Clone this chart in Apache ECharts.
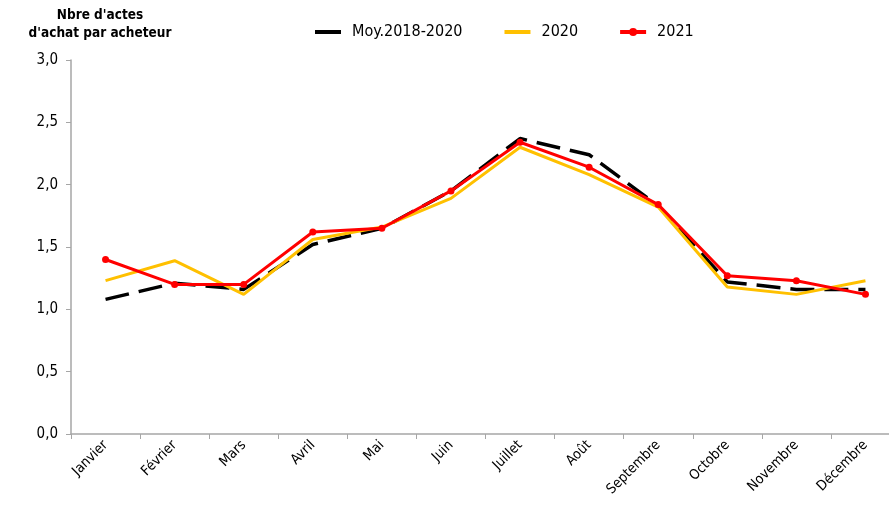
<!DOCTYPE html>
<html>
<head>
<meta charset="utf-8">
<script src="https://cdn.jsdelivr.net/npm/echarts@6/dist/echarts.min.js"></script>
<style>
html,body{margin:0;padding:0;background:#fff;overflow:hidden;width:889px;height:505px;}
#chart{width:900px;height:505px;}
</style>
</head>
<body>
<div id="chart"></div>
<script>
const categories = ['Janvier','Février','Mars','Avril','Mai','Juin','Juillet','Août','Septembre','Octobre','Novembre','Décembre'];
const moy = [1.08,1.21,1.16,1.52,1.65,1.95,2.37,2.24,1.83,1.22,1.16,1.16];
const y2020 = [1.23,1.39,1.12,1.56,1.66,1.89,2.30,2.08,1.82,1.18,1.12,1.23];
const y2021 = [1.40,1.20,1.20,1.62,1.65,1.95,2.34,2.14,1.84,1.27,1.23,1.12];
const yTicks = [0,0.5,1,1.5,2,2.5,3];

const FONT = '"Liberation Sans Narrow","DejaVu Sans Condensed","Liberation Sans",sans-serif';
const chart = echarts.init(document.getElementById('chart'), null, {renderer:'canvas'});
chart.setOption({
  animation:false,
  backgroundColor:'#fff',
  textStyle:{fontFamily:FONT},
  title:{
    text:"Nbre d'actes\nd'achat par acheteur",
    left:95, top:1, textAlign:'center',
    textStyle:{fontFamily:FONT,fontSize:13.5,fontWeight:'bold',color:'#000',lineHeight:18}
  },
  legend:{
    left:313, top:24, padding:0, itemWidth:26, itemHeight:10, itemGap:40,
    textStyle:{fontFamily:FONT,fontSize:16,color:'#000',padding:[0,0,0,6]},
    data:[
      {name:'Moy.2018-2020', itemStyle:{opacity:0}, lineStyle:{type:'solid',width:4}},
      {name:'2020', itemStyle:{opacity:0}, lineStyle:{width:4}},
      {name:'2021', lineStyle:{width:4}}
    ]
  },
  grid:{left:71, top:60, bottom:71, right:0, containLabel:false},
  xAxis:{
    type:'category', data:categories, boundaryGap:true,
    axisLine:{lineStyle:{color:'#a6a6a6',width:1.5}},
    axisTick:{show:true,alignWithLabel:false,length:5,lineStyle:{color:'#a6a6a6'}},
    axisLabel:{rotate:45,interval:0,fontFamily:FONT,fontSize:14,color:'#000',margin:9}
  },
  yAxis:{
    type:'value', min:0, max:3, interval:0.5,
    axisLine:{show:true,lineStyle:{color:'#a6a6a6',width:1.5}},
    axisTick:{show:true,length:5,lineStyle:{color:'#a6a6a6'}},
    splitLine:{show:false},
    axisLabel:{fontFamily:FONT,fontSize:15,color:'#000',margin:13,
      formatter:v=>v.toFixed(1).replace('.',',')}
  },
  series:[
    {name:'Moy.2018-2020',type:'line',data:moy,symbol:'none',
     lineStyle:{color:'#000',width:3.5,type:[24,10]},itemStyle:{color:'#000'},z:1},
    {name:'2020',type:'line',data:y2020,symbol:'none',
     lineStyle:{color:'#ffc000',width:3},itemStyle:{color:'#ffc000'},z:2},
    {name:'2021',type:'line',data:y2021,symbol:'circle',symbolSize:7,
     lineStyle:{color:'#ff0000',width:3},itemStyle:{color:'#ff0000'},z:3}
  ]
});
</script>
</body>
</html>
